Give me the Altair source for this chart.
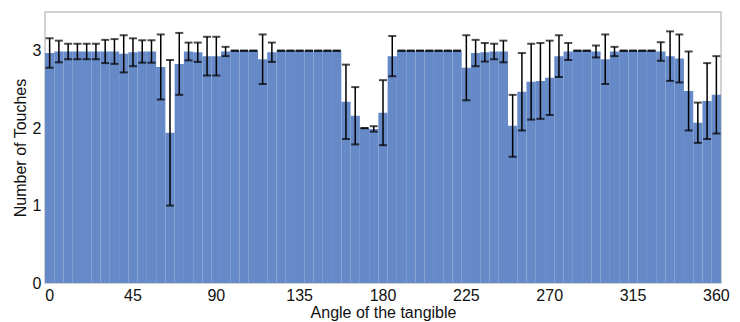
import altair as alt
import pandas as pd

# Tangible orientation, sampled every 5 degrees from 0 to 360
angles = list(range(0, 361, 5))

# Mean number of touches detected at each angle
mean_touches = [
    2.97, 2.99, 2.99, 2.99, 2.99, 2.99, 2.99, 2.99, 2.96, 2.98,
    2.99, 2.99, 2.79, 1.94, 2.83, 2.99, 2.98, 2.93, 2.93, 2.99,
    3.00, 3.00, 3.00, 2.89, 2.98, 3.00, 3.00, 3.00, 3.00, 3.00,
    3.00, 3.00, 2.34, 2.16, 2.00, 1.99, 2.20, 2.93, 3.00, 3.00,
    3.00, 3.00, 3.00, 3.00, 3.00, 2.78, 2.97, 2.98, 2.99, 2.99,
    2.03, 2.47, 2.60, 2.61, 2.65, 2.93, 2.99, 3.00, 3.00, 2.99,
    2.89, 2.99, 3.00, 3.00, 3.00, 3.00, 2.99, 2.93, 2.90, 2.48,
    2.07, 2.35, 2.43,
]

# Standard deviation of the touch count at each angle
sd_touches = [
    0.19, 0.14, 0.10, 0.10, 0.10, 0.10, 0.15, 0.16, 0.24, 0.18,
    0.145, 0.145, 0.42, 0.94, 0.40, 0.115, 0.125, 0.25, 0.25, 0.06,
    0.00, 0.00, 0.00, 0.32, 0.125, 0.00, 0.00, 0.00, 0.00, 0.00,
    0.00, 0.00, 0.48, 0.37, 0.00, 0.035, 0.42, 0.26, 0.00, 0.00,
    0.00, 0.00, 0.00, 0.00, 0.00, 0.42, 0.17, 0.12, 0.10, 0.14,
    0.40, 0.50, 0.49, 0.49, 0.48, 0.27, 0.11, 0.00, 0.00, 0.077,
    0.32, 0.06, 0.00, 0.00, 0.00, 0.00, 0.12, 0.32, 0.31, 0.51,
    0.26, 0.49, 0.50,
]

df = pd.DataFrame({"angle": angles, "mean": mean_touches, "sd": sd_touches})

FONT = "Liberation Sans"
BAR_COLOR = "#6689C7"

x_enc = alt.X(
    "angle:O",
    sort=None,
    scale=alt.Scale(paddingInner=0, paddingOuter=0),
    axis=alt.Axis(
        title="Angle of the tangible",
        labelExpr="datum.value % 45 === 0 ? datum.label : ''",
        labelAngle=0,
        labelOverlap=False,
        ticks=False,
        tickSize=0,
        domain=False,
        labelPadding=4,
        titlePadding=1,
    ),
)

y_scale = alt.Scale(domain=[0, 3.5], nice=False)

base = alt.Chart(df).transform_calculate(
    lo="datum.mean - datum.sd", hi="datum.mean + datum.sd"
)

bars = base.mark_bar(color=BAR_COLOR).encode(
    x=x_enc,
    y=alt.Y(
        "mean:Q",
        scale=y_scale,
        axis=alt.Axis(
            title="Number of Touches",
            values=[0, 1, 2, 3],
            format="d",
            grid=False,
            ticks=False,
            tickSize=0,
            domain=False,
            labelPadding=4,
            titleX=-20,
            titleY=135.5,
            titleAngle=270,
            titleBaseline="alphabetic",
        ),
    ),
)

whiskers = base.mark_rule(color="black", strokeWidth=1.5).encode(
    x=x_enc, y=alt.Y("lo:Q", scale=y_scale), y2="hi:Q"
)

cap_lo = base.mark_tick(color="black", thickness=2, size=8).encode(
    x=x_enc, y=alt.Y("lo:Q", scale=y_scale)
)
cap_hi = base.mark_tick(color="black", thickness=2, size=8).encode(
    x=x_enc, y=alt.Y("hi:Q", scale=y_scale)
)

chart = (
    alt.layer(bars, whiskers, cap_lo, cap_hi)
    .properties(
        width=676,
        height=271,
        padding={"left": 45, "top": 12, "right": 19, "bottom": 39},
        autosize=alt.AutoSizeParams(type="none"),
        background="white",
    )
    .configure_view(stroke="#c4c4c4", strokeWidth=1.5)
    .configure_axis(
        labelFont=FONT,
        titleFont=FONT,
        labelFontSize=16,
        titleFontSize=16,
        labelColor="#111111",
        titleColor="#111111",
        titleFontWeight="normal",
    )
)

chart.save("out.html", embed_options={"renderer": "svg", "actions": False})
